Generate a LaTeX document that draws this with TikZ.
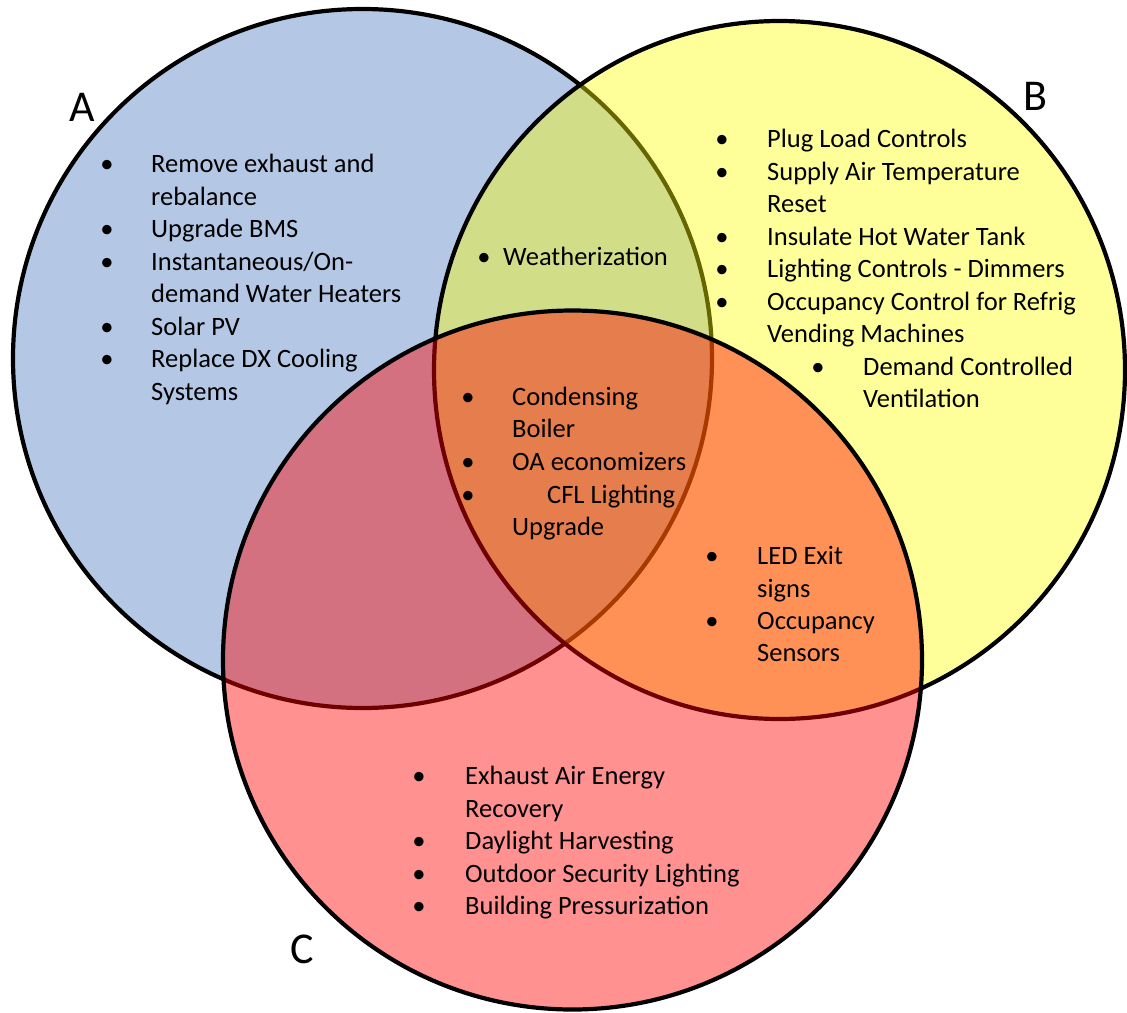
\documentclass[tikz,border=0pt]{standalone}
\usepackage{fontspec}
\setmainfont{Carlito}
\definecolor{setA}{RGB}{180,199,228}
\definecolor{setB}{RGB}{255,255,0}
\definecolor{setC}{RGB}{255,0,0}
\begin{document}
\begin{tikzpicture}[x=1pt,y=-1pt,
  ring/.style={line width=4.2pt,draw=black},
  itemtxt/.style={anchor=base west,inner sep=0pt,font=\fontsize{26.5}{32.5}\selectfont},
  bul/.style={anchor=base,inner sep=0pt,font=\fontsize{26.5}{32.5}\selectfont},
  setlabel/.style={anchor=base,inner sep=0pt,font=\fontsize{44}{52}\selectfont}]
\useasboundingbox (0,0) rectangle (1127,1012);
% circles
\draw[ring,fill=setA] (362.5,358.5) ellipse [x radius=349.5,y radius=349.5];
\draw[ring,fill=setB,fill opacity=0.4] (779.5,370) ellipse [x radius=345.5,y radius=349];
\draw[ring,fill=setC,fill opacity=0.43] (572.5,660) ellipse [x radius=349.5,y radius=349.5];
% set labels
\node[setlabel] (labA) at (82,121) {A};
\node[setlabel] (labB) at (1035,110) {B};
\node[setlabel] (labC) at (302,963) {C};
% A only
\node[bul] (bA1) at (107,172) {•};
\node[itemtxt] (tA1) at (151,172) {Remove exhaust and};
\node[itemtxt] (tA1b) at (151,205) {rebalance};
\node[bul] (bA2) at (107,237) {•};
\node[itemtxt] (tA2) at (151,237) {Upgrade BMS};
\node[bul] (bA3) at (107,270) {•};
\node[itemtxt] (tA3) at (151,270) {Instantaneous/On-};
\node[itemtxt] (tA3b) at (151,302) {demand Water Heaters};
\node[bul] (bA4) at (107,335) {•};
\node[itemtxt] (tA4) at (151,335) {Solar PV};
\node[bul] (bA5) at (107,367) {•};
\node[itemtxt] (tA5) at (151,367) {Replace DX Cooling};
\node[itemtxt] (tA5b) at (151,400) {Systems};
% A and B
\node[bul] (bAB1) at (484,265) {•};
\node[itemtxt] (tAB1) at (503,265) {Weatherization};
% B only
\node[bul] (bB1) at (722,147) {•};
\node[itemtxt] (tB1) at (767,147) {Plug Load Controls};
\node[bul] (bB2) at (722,180) {•};
\node[itemtxt] (tB2) at (767,180) {Supply Air Temperature};
\node[itemtxt] (tB2b) at (767,212) {Reset};
\node[bul] (bB3) at (722,245) {•};
\node[itemtxt] (tB3) at (767,245) {Insulate Hot Water Tank};
\node[bul] (bB4) at (722,277) {•};
\node[itemtxt] (tB4) at (767,277) {Lighting Controls - Dimmers};
\node[bul] (bB5) at (722,310) {•};
\node[itemtxt] (tB5) at (767,310) {Occupancy Control for Refrig};
\node[itemtxt] (tB5b) at (767,342) {Vending Machines};
\node[bul] (bB6) at (818,375) {•};
\node[itemtxt] (tB6) at (863,375) {Demand Controlled};
\node[itemtxt] (tB6b) at (863,407) {Ventilation};
% A, B and C
\node[bul] (bABC1) at (468,405) {•};
\node[itemtxt] (tABC1) at (512,405) {Condensing};
\node[itemtxt] (tABC1b) at (512,437) {Boiler};
\node[bul] (bABC2) at (468,470) {•};
\node[itemtxt] (tABC2) at (512,470) {OA economizers};
\node[bul] (bABC3) at (468,503) {•};
\node[itemtxt] (tABC3) at (547,503) {CFL Lighting};
\node[itemtxt] (tABC3b) at (512,535) {Upgrade};
% B and C
\node[bul] (bBC1) at (712,564) {•};
\node[itemtxt] (tBC1) at (757,564) {LED Exit};
\node[itemtxt] (tBC1b) at (757,597) {signs};
\node[bul] (bBC2) at (712,629) {•};
\node[itemtxt] (tBC2) at (757,629) {Occupancy};
\node[itemtxt] (tBC2b) at (757,661) {Sensors};
% C only
\node[bul] (bC1) at (419,784) {•};
\node[itemtxt] (tC1) at (465,784) {Exhaust Air Energy};
\node[itemtxt] (tC1b) at (465,817) {Recovery};
\node[bul] (bC2) at (419,849) {•};
\node[itemtxt] (tC2) at (465,849) {Daylight Harvesting};
\node[bul] (bC3) at (419,882) {•};
\node[itemtxt] (tC3) at (465,882) {Outdoor Security Lighting};
\node[bul] (bC4) at (419,914) {•};
\node[itemtxt] (tC4) at (465,914) {Building Pressurization};
\end{tikzpicture}
\end{document}
